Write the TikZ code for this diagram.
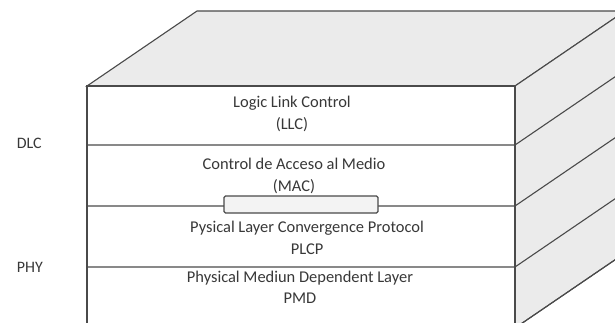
\documentclass[tikz,border=0pt]{standalone}
\usepackage{fontspec}
\setmainfont{Carlito}
\definecolor{stEdge}{HTML}{4A4A4A}
\definecolor{stFace}{HTML}{EBEBEB}
\definecolor{stText}{HTML}{383838}
\definecolor{stBox}{HTML}{F3F3F3}
\usetikzlibrary{positioning}

\begin{document}
\begin{tikzpicture}[x=1bp, y=-1bp, line width=1.1bp,
    layertext/.style={font=\fontsize{16.5}{21.5}\selectfont, text=stText, align=center},
    sidetext/.style={font=\fontsize{16}{21}\selectfont, text=stText}]
  \useasboundingbox (0,0) rectangle (615,322);
  \clip (0,0) rectangle (615,322);

  % Top face
  \filldraw[fill=stFace, draw=stEdge] (87,86) -- (197,11) -- (625,11) -- (515,86) -- cycle;
  % Right face
  \filldraw[fill=stFace, draw=stEdge] (515,86) -- (625,11) -- (625,253) -- (515,328) -- cycle;
  % Front face
  \filldraw[fill=white, draw=stEdge] (87,86) rectangle (515,328);

  % Layer borders, carried round the right face
  \foreach \y in {145,206,267,328} {
    \draw[stEdge] (87,\y) -- (515,\y) -- ++(110,-75);
  }

  % Service access point between MAC and PLCP
  \node[draw=stEdge, fill=stBox, rounded corners=1.5bp, line width=1.1bp,
        minimum width=154bp, minimum height=17bp, inner sep=0pt] (sap) at (301,204.5) {};

  % Layer names
  \node[layertext] (llc) at (292,114) {Logic Link Control\\(LLC)};
  \node[layertext] (mac) at (294,176) {Control de Acceso al Medio\\(MAC)};
  \node[layertext] (plcp) at (307,238) {Pysical Layer Convergence Protocol\\PLCP};
  \node[layertext] (pmd) at (300,287.5) {Physical Mediun Dependent Layer\\PMD};

  % Sublayer groups
  \node[sidetext, anchor=west] (dlc) at (13,143) {DLC};
  \node[sidetext, anchor=west] (phy) at (13,267) {PHY};

\end{tikzpicture}
\end{document}
